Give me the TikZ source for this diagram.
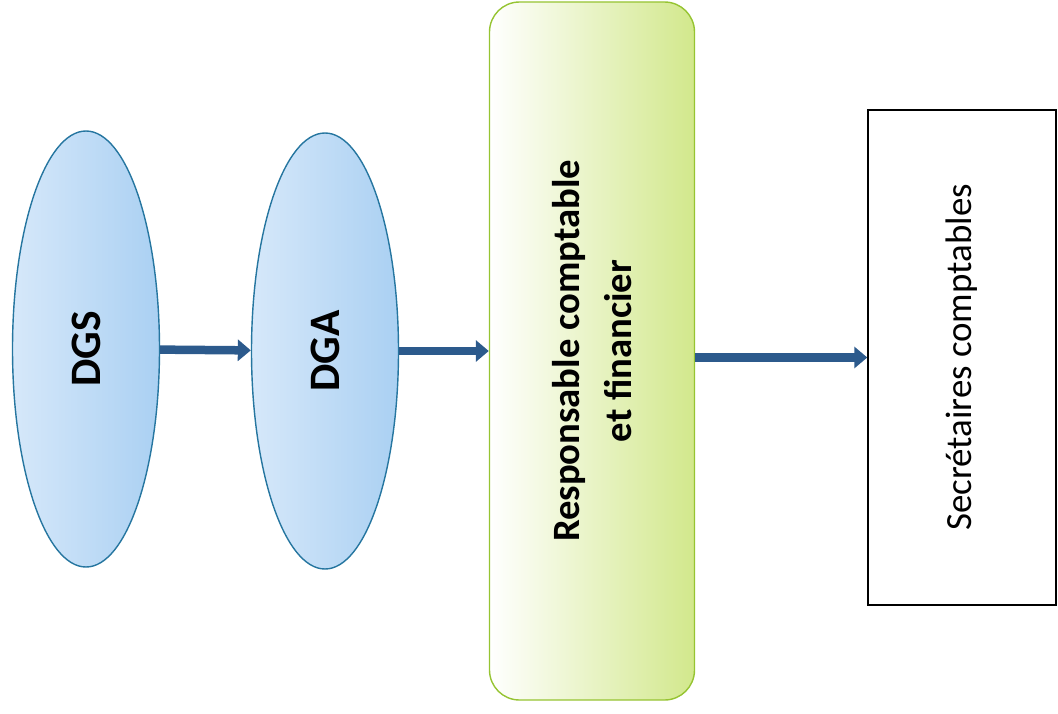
\documentclass[tikz,border=0pt]{standalone}
\usepackage{fontspec}
\setmainfont{Carlito}
\usetikzlibrary{shapes.geometric,arrows.meta}

\definecolor{ellfill}{RGB}{170,208,242}
\definecolor{elllight}{RGB}{214,232,250}
\definecolor{elldraw}{RGB}{38,118,160}
\definecolor{greenfill}{RGB}{210,232,140}
\definecolor{greendraw}{RGB}{150,196,50}
\definecolor{arrowblue}{RGB}{44,90,140}

\begin{document}
\begin{tikzpicture}[
boss/.style={ellipse, rotate=90, draw=elldraw, thick, left color=elllight, right color=ellfill, minimum width=8.72cm, minimum height=2.94cm, inner sep=0, font=\fontsize{24.7}{30}\selectfont\bfseries},
chief/.style={rectangle, rounded corners=0.6cm, rotate=90, draw=greendraw, thick, left color=white, right color=greenfill, minimum width=13.96cm, minimum height=4.1cm, inner sep=0, align=center, font=\fontsize{22}{30}\selectfont\bfseries},
staff/.style={rectangle, rotate=90, draw=black, thick, fill=white, minimum width=9.9cm, minimum height=3.76cm, inner sep=0, align=center, font=\fontsize{21}{28}\selectfont},
link/.style={-{Triangle[length=0.26cm,width=0.42cm]}, arrowblue, line width=0.17cm},
]
\useasboundingbox (0,0) rectangle (21.16,-14.26);

% Place the boxes on one row
\coordinate (pos1) at (1.72,-6.98);    % DGS
\coordinate (pos2) at (6.50,-7.02);    % DGA
\coordinate (pos3) at (11.84,-7.02);   % responsable
\coordinate (pos4) at (19.24,-7.15);   % secretaires

% Nodes at the positions
\node[boss] (dgs) at (pos1) {DGS};
\node[boss] (dga) at (pos2) {DGA};
\node[chief] (resp) at (pos3) {Responsable comptable\\et financier};
\node[staff] (secr) at (pos4) {Secrétaires comptables};

% Draw connecting arrows (south = right side of the turned nodes)
\draw[link] (dgs) to (dga);
\draw[link] (dga.south) to (dga.south -| resp.north);
\draw[link] (resp.south |- secr) to (secr.north);

\end{tikzpicture}
\end{document}
